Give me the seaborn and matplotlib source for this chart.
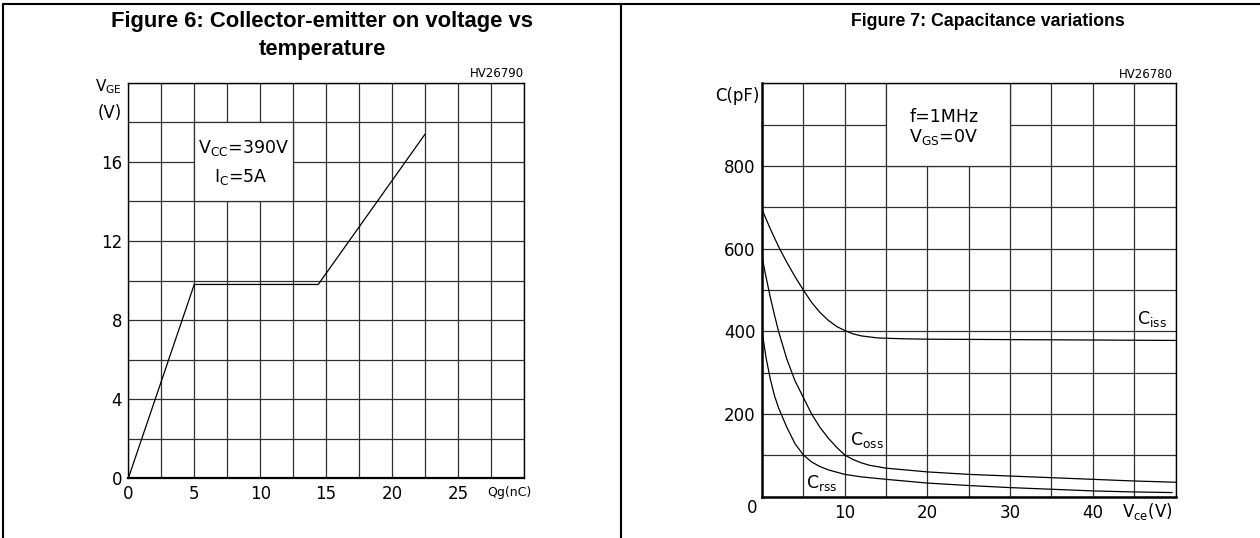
import numpy as np
import pandas as pd
import matplotlib
matplotlib.use("Agg")
import matplotlib.pyplot as plt
import seaborn as sns
from matplotlib.patches import Rectangle
from matplotlib.lines import Line2D
from matplotlib.ticker import MultipleLocator

# Figure 6 - gate charge curve
qg = [0, 5, 14.4, 22.5]
vge = [0, 9.8, 9.8, 17.4]

# Figure 7 - capacitance curves
ciss_v = [0, 1, 2, 3, 4, 5, 6, 7, 8, 9, 10, 11, 12, 14, 17, 20, 30, 40, 50]
ciss_c = [695, 648, 605, 567, 532, 500, 470, 446, 427, 412, 402, 394, 389, 384, 382, 381, 380, 379, 378]
coss_v = [0, 0.5, 1, 1.5, 2, 3, 4, 5, 6, 7, 8, 9, 10, 11, 12, 13, 15, 20, 25, 30, 35, 40, 45, 50]
coss_c = [580, 530, 483, 440, 400, 333, 280, 240, 200, 168, 142, 120, 101, 90, 82, 76, 69, 60, 54, 50, 46, 42, 38, 35]
crss_v = [0, 0.5, 1, 1.5, 2, 3, 4, 5, 6, 7, 8, 10, 12, 15, 20, 25, 30, 35, 40, 45, 49.6]
crss_c = [400, 335, 285, 245, 215, 168, 128, 101, 84, 73, 65, 54, 48, 42, 33, 27, 22, 18, 14, 11.5, 10]

qg_ticks = [0, 5, 10, 15, 20, 25]
vge_ticks = [0, 4, 8, 12, 16]
vce_ticks = [10, 20, 30, 40]
cap_ticks = [200, 400, 600, 800]

sns.set_theme(style="white")
plt.rcParams['font.family'] = ['DejaVu Sans']
plt.rcParams['mathtext.default'] = 'regular'
plt.rcParams['text.color'] = 'black'

fig = plt.figure(figsize=(12.6, 5.38), dpi=100)
W, H = 1260, 538

def frac_box(x0, y0, x1, y1):
    return [x0 / W, 1 - y1 / H, (x1 - x0) / W, (y1 - y0) / H]

grid_col = '#303030'
ax1 = fig.add_axes(frac_box(128.3, 82.7, 524, 478.3))
ax2 = fig.add_axes(frac_box(762, 83.3, 1175.5, 496.7))

# ---- left chart
df1 = pd.DataFrame({'Qg': qg, 'VGE': vge})
sns.lineplot(data=df1, x='Qg', y='VGE', sort=False, color='black', lw=0.9, ax=ax1, zorder=3)
ax1.set_xlim(0, 30)
ax1.set_ylim(0, 20)
ax1.set_xticks(qg_ticks)
ax1.set_yticks(vge_ticks)
ax1.xaxis.set_minor_locator(MultipleLocator(2.5))
ax1.yaxis.set_minor_locator(MultipleLocator(2))
ax1.add_patch(Rectangle((5, 14), 7.5, 4, facecolor='white', edgecolor=grid_col, lw=0.9, zorder=1.5))
ax1.text(8.7, 16.7, 'V$_{CC}$=390V', ha='center', va='center', fontsize=12.5, zorder=4)
ax1.text(8.5, 15.25, 'I$_{C}$=5A', ha='center', va='center', fontsize=12.5, zorder=4)
ax1.annotate('V$_{GE}$', xy=(0, 20), xytext=(-6, -4), textcoords='offset pixels',
             ha='right', va='center', fontsize=11)
ax1.annotate('(V)', xy=(0, 20), xytext=(-6, -30), textcoords='offset pixels',
             ha='right', va='center', fontsize=12)
ax1.annotate('HV26790', xy=(30, 20), xytext=(0, 9), textcoords='offset pixels',
             ha='right', va='center', fontsize=8.5)
ax1.annotate('Qg(nC)', xy=(27.2, 0), xytext=(0, -14), textcoords='offset pixels',
             ha='left', va='center', fontsize=9)

# ---- right chart
df2 = pd.concat([
    pd.DataFrame({'Vce': ciss_v, 'C': ciss_c, 'curve': 'Ciss'}),
    pd.DataFrame({'Vce': coss_v, 'C': coss_c, 'curve': 'Coss'}),
    pd.DataFrame({'Vce': crss_v, 'C': crss_c, 'curve': 'Crss'}),
])
sns.lineplot(data=df2, x='Vce', y='C', hue='curve', palette=['black'] * 3,
             lw=0.9, legend=False, ax=ax2, zorder=3)
ax2.set_xlim(0, 50)
ax2.set_ylim(0, 1000)
ax2.set_xticks(vce_ticks)
ax2.set_yticks(cap_ticks)
ax2.xaxis.set_minor_locator(MultipleLocator(5))
ax2.yaxis.set_minor_locator(MultipleLocator(100))
ax2.add_patch(Rectangle((15, 800), 15, 200, facecolor='white', edgecolor=grid_col, lw=0.9, zorder=1.5))
ax2.text(17.8, 919, 'f=1MHz', ha='left', va='center', fontsize=12.5, zorder=4)
ax2.text(17.8, 870, 'V$_{GS}$=0V', ha='left', va='center', fontsize=12.5, zorder=4)
ax2.text(45.4, 430, 'C$_{iss}$', ha='left', va='center', fontsize=12.5, zorder=4)
ax2.text(10.7, 137, 'C$_{oss}$', ha='left', va='center', fontsize=12.5, zorder=4)
ax2.text(5.3, 32, 'C$_{rss}$', ha='left', va='center', fontsize=12.5, zorder=4)
ax2.annotate('0', xy=(0, 0), xytext=(-10, -11), textcoords='offset pixels',
             ha='center', va='center', fontsize=12)
ax2.annotate('C(pF)', xy=(0, 1000), xytext=(-2, -13), textcoords='offset pixels',
             ha='right', va='center', fontsize=12)
ax2.annotate('HV26780', xy=(50, 1000), xytext=(-3, 9), textcoords='offset pixels',
             ha='right', va='center', fontsize=8.5)
ax2.annotate('V$_{ce}$(V)', xy=(43.5, 0), xytext=(0, -15), textcoords='offset pixels',
             ha='left', va='center', fontsize=12)

for ax in (ax1, ax2):
    ax.set_xlabel('')
    ax.set_ylabel('')
    ax.set_axisbelow(True)
    ax.grid(which='both', color=grid_col, lw=0.9)
    ax.tick_params(which='both', length=0, labelsize=12, colors='black')
    ax.tick_params(axis='x', pad=5)
    ax.tick_params(axis='y', pad=4.5)
    for s in ax.spines.values():
        s.set_color('black')
        s.set_linewidth(1.0)

ax1.spines['bottom'].set_linewidth(1.6)
ax2.spines['bottom'].set_linewidth(1.8)
ax2.spines['left'].set_linewidth(1.8)

# titles
title_font = dict(ha='center', va='center', fontweight='bold', family='Liberation Sans', color='black')
fig.text(322 / W, 1 - 22 / H, 'Figure 6: Collector-emitter on voltage vs', fontsize=15.8, **title_font)
fig.text(322 / W, 1 - 49 / H, 'temperature', fontsize=15.8, **title_font)
fig.text(988 / W, 1 - 22 / H, 'Figure 7: Capacitance variations', fontsize=12.8, **title_font)

# panel frame
frame_lines = [((3, 1260), (4, 4)), ((3, 3), (4, 538)), ((621, 621), (4, 538))]
for xs, ys in frame_lines:
    fig.add_artist(Line2D([x / W for x in xs], [1 - y / H for y in ys],
                          transform=fig.transFigure, color='black', lw=1.5))

fig.savefig('out.png', dpi=100)
